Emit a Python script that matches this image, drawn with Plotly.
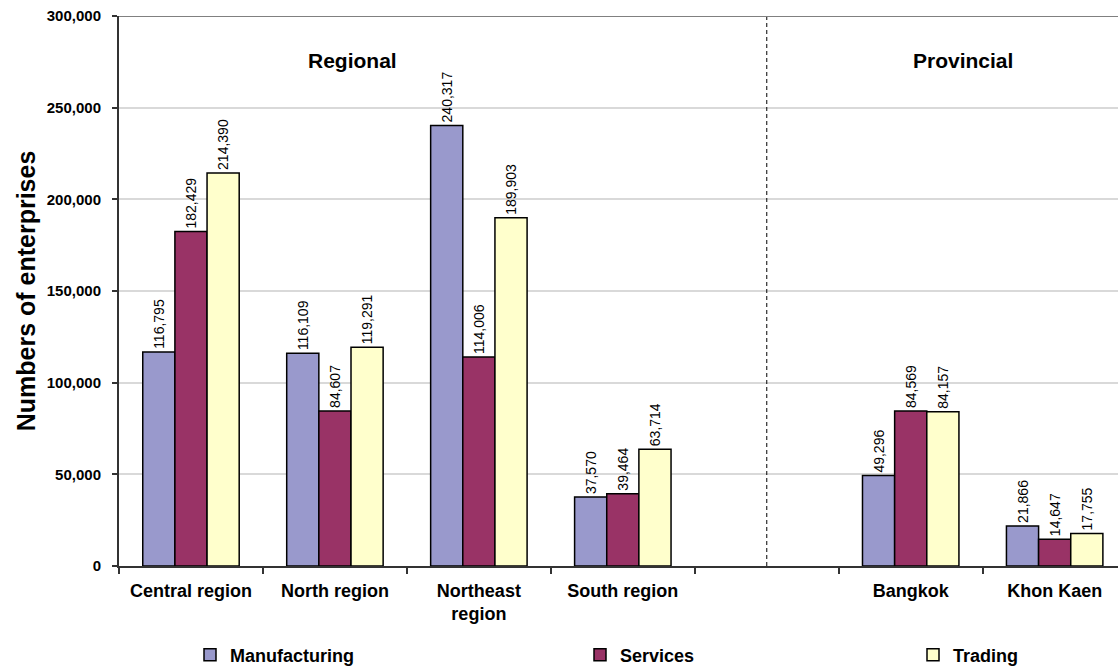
import plotly.graph_objects as go

categories = ["Central region", "North region", "Northeast<br>region", "South region", " ", "Bangkok", "Khon Kaen"]
manufacturing = [116795, 116109, 240317, 37570, None, 49296, 21866]
services = [182429, 84607, 114006, 39464, None, 84569, 14647]
trading = [214390, 119291, 189903, 63714, None, 84157, 17755]
series_names = ["Manufacturing", "Services", "Trading"]
series_colors = ["#9999CC", "#993366", "#FFFFCC"]
y_ticks = [0, 50000, 100000, 150000, 200000, 250000, 300000]
y_title = "Numbers of enterprises"
group_labels = ["Regional", "Provincial"]

FONT = "Liberation Sans, Arial, sans-serif"

# pixel geometry of the plot area
PL, PR, PT, PB = 119, 1118, 16, 566
PW, PH = PR - PL, PB - PT


def px_x(p):
    return (p - PL) / PW


def px_y(p):
    return (PB - p) / PH


fig = go.Figure()
legend_ids = ["legend", "legend2", "legend3"]
for name, vals, col, lg in zip(series_names, [manufacturing, services, trading], series_colors, legend_ids):
    fig.add_trace(go.Bar(
        x=categories, y=vals, name=name,
        marker=dict(color=col, line=dict(color="#000000", width=1.5)),
        texttemplate="%{y:,}", textposition="outside", textangle=-90,
        constraintext="none", cliponaxis=False,
        textfont=dict(family=FONT, size=14, color="#000000"),
        legend=lg, showlegend=True,
    ))

blank_idx = categories.index(" ")
fig.add_shape(type="line", xref="x", yref="y", x0=blank_idx, x1=blank_idx,
              y0=0, y1=y_ticks[-1], line=dict(color="#000000", width=1, dash="4px,3px"))
fig.add_shape(type="line", xref="paper", yref="y", x0=0, x1=1,
              y0=y_ticks[-1], y1=y_ticks[-1], line=dict(color="#808080", width=2))

for lbl, cx in zip(group_labels, [352, 963]):
    fig.add_annotation(text="<b>" + lbl + "</b>", xref="paper", yref="paper",
                       x=px_x(cx), y=px_y(61), xanchor="center", yanchor="middle",
                       showarrow=False,
                       font=dict(family=FONT, size=21, color="#000000"))

leg_common = dict(orientation="h", yanchor="middle", y=px_y(655), xanchor="left",
                  font=dict(family=FONT, size=18, color="#000000", weight="bold"),
                  bgcolor="rgba(0,0,0,0)", itemwidth=30)
fig.update_layout(
    width=1118, height=666,
    margin=dict(l=PL, r=1118 - PR, t=PT, b=666 - PB, autoexpand=False),
    paper_bgcolor="#FFFFFF", plot_bgcolor="#FFFFFF",
    barmode="group", bargap=0.33, bargroupgap=0,
    font=dict(family=FONT, color="#000000"),
    showlegend=True,
    legend=dict(x=px_x(190), **leg_common),
    legend2=dict(x=px_x(580), **leg_common),
    legend3=dict(x=px_x(913), **leg_common),
    xaxis=dict(
        type="category", range=[-0.5, 6.44],
        tickson="boundaries", ticks="outside", ticklen=6, tickcolor="#333333", tickwidth=1.5,
        showline=True, linecolor="#333333", linewidth=2,
        tickfont=dict(family=FONT, size=18, color="#000000", weight="bold"),
        ticklabelstandoff=7,
        showgrid=False, zeroline=False,
    ),
    yaxis=dict(
        range=[0, 300000], tickvals=y_ticks, tickformat=",",
        ticks="outside", ticklen=5, tickcolor="#333333", tickwidth=1.5,
        showline=True, linecolor="#333333", linewidth=2,
        showgrid=True, gridcolor="#D9D9D9", gridwidth=1.5,
        zeroline=False,
        tickfont=dict(family=FONT, size=15, color="#000000", weight="bold"),
        ticklabelstandoff=8,
        title=dict(text=y_title, standoff=4,
                   font=dict(family=FONT, size=25, color="#000000", weight="bold")),
    ),
)

fig.write_html("out.html")
